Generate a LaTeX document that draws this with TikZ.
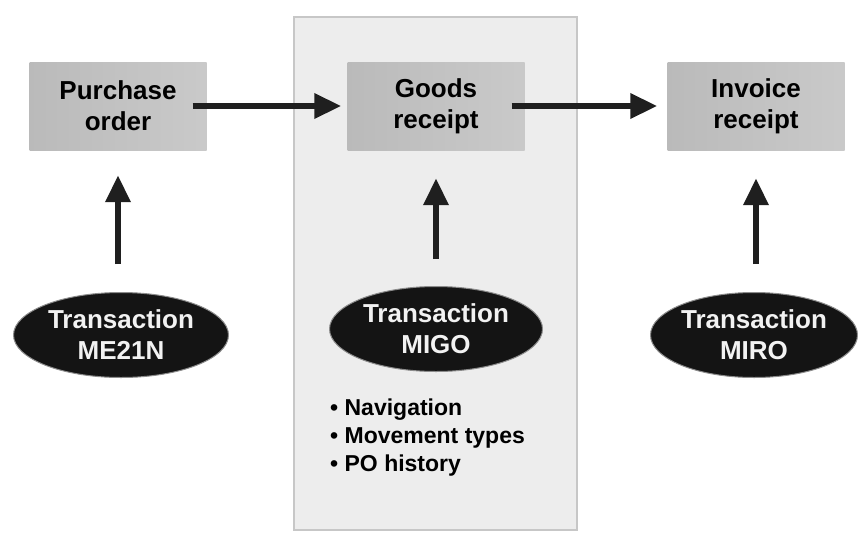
\documentclass[tikz,border=0pt]{standalone}
\usepackage{fontspec}
\setmainfont{Liberation Sans}
\usetikzlibrary{arrows.meta,shapes.geometric}

\tikzset{
  stepbox/.style={rectangle, minimum width=177pt, minimum height=88pt,
    left color=black!27, middle color=black!12, right color=black!21,
    align=center, inner sep=0pt, font=\bfseries\fontsize{26}{31}\selectfont,
    text=black},
  tcode/.style={ellipse, minimum width=215pt, minimum height=85pt, inner sep=0pt,
    fill=black!92, draw=black!45, line width=1pt, align=center,
    text=black!5, font=\bfseries\fontsize{26}{31}\selectfont},
  flow/.style={-{Triangle[width=24pt,length=27pt]}, line width=6.5pt, draw=black!88}
}

\begin{document}
\begin{tikzpicture}[x=1pt,y=-1pt]
  \useasboundingbox (0,0) rectangle (858,533);
  % panel behind the goods receipt step
  \draw[fill=black!7, draw=black!22, line width=1.5pt] (294,17) rectangle (577,530);

  % steps
  \node[stepbox] (po) at (118,106) {Purchase\\order};
  \node[stepbox] (gr) at (436,106) {Goods\\receipt};
  \node[stepbox] (ir) at (756,106) {Invoice\\receipt};

  % transactions
  \node[tcode] (me) at (121,335) {Transaction\\ME21N};
  \node[tcode, minimum width=213pt] (migo) at (436,329) {Transaction\\MIGO};
  \node[tcode, minimum width=207pt] (miro) at (754,335) {Transaction\\MIRO};

  \node[anchor=north west, inner sep=0pt, align=left,
        font=\bfseries\fontsize{23}{28}\selectfont, text=black] (notes) at (330,399)
        {• Navigation\\• Movement types\\• PO history};

  % flow between steps
  \draw[flow] ([xshift=-14pt]po.east) -- ([xshift=-6pt]gr.west);
  \draw[flow] ([xshift=-13pt]gr.east) -- ([xshift=-10pt]ir.west);

  % transactions feeding steps
  \draw[flow] (po.south |- me.north) ++(0,-28) -- ([yshift=-25pt]po.south);
  \draw[flow] (gr.south |- migo.north) ++(0,-27) -- ([yshift=-28pt]gr.south);
  \draw[flow] (ir.south |- miro.north) ++(0,-28) -- ([yshift=-28pt]ir.south);
\end{tikzpicture}
\end{document}
